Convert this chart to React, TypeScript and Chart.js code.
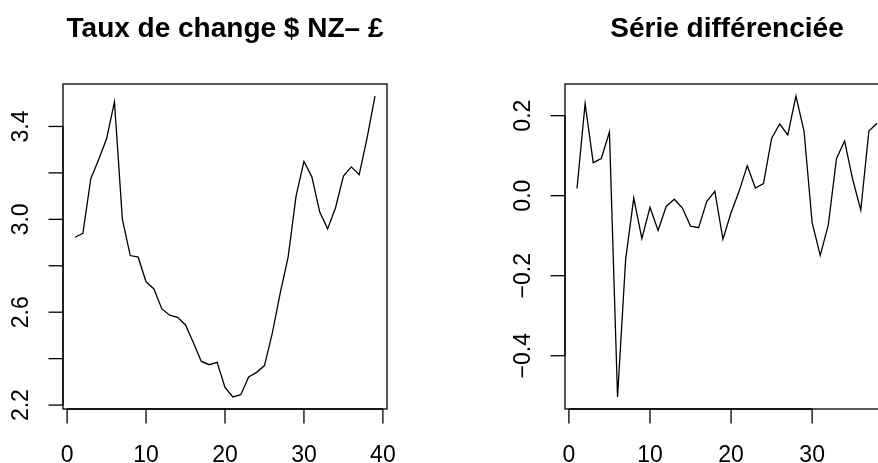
import React, { useEffect, useRef } from "react";
import { Chart, registerables } from "chart.js";

Chart.register(...registerables);

// Data
const tauxValues = [
  2.923, 2.94, 3.175, 3.258, 3.347, 3.506, 3.0, 2.844, 2.837, 2.731, 2.70, 2.614, 2.587,
  2.578, 2.545, 2.468, 2.388, 2.374, 2.384, 2.276, 2.235, 2.245, 2.321, 2.341, 2.370, 2.511,
  2.683, 2.838, 3.1, 3.25, 3.183, 3.031, 2.959, 3.05, 3.186, 3.226, 3.192, 3.351, 3.531,
];
const diffValues = [
  0.018, 0.23, 0.0825, 0.093, 0.159, -0.503, -0.159, -0.006, -0.1075, -0.029, -0.087, -0.027,
  -0.009, -0.031, -0.076, -0.08, -0.015, 0.011, -0.109, -0.0425, 0.0115, 0.075, 0.019, 0.03,
  0.143, 0.179, 0.152, 0.249, 0.1615, -0.0675, -0.149, -0.0725, 0.0925, 0.1365, 0.041, -0.036,
  0.1615, 0.181,
];

const leftTitle = "Taux de change $ NZ\u2013 \u00a3";
const rightTitle = "S\u00e9rie diff\u00e9renci\u00e9e";

const leftXTicks = [0, 10, 20, 30, 40];
const leftYTicks = [2.2, 2.4, 2.6, 2.8, 3.0, 3.2, 3.4];
const leftYLabels = ["2.2", "", "2.6", "", "3.0", "", "3.4"];

const rightXTicks = [0, 10, 20, 30, 40];
const rightYTicks = [-0.4, -0.2, 0.0, 0.2];
const rightYLabels = ["\u22120.4", "\u22120.2", "0.0", "0.2"];

const FONT = "'Liberation Sans', Arial, Helvetica, sans-serif";

function rAxisPlugin(title: string, xTicks: number[], yTicks: number[], yLabels: string[]) {
  return {
    id: "rAxes",
    afterDraw(chart: any) {
      const ctx = chart.ctx;
      const a = chart.chartArea;
      const xs = chart.scales.x;
      const ys = chart.scales.y;
      const tick = 14.5;
      ctx.save();
      ctx.strokeStyle = "#000";
      ctx.fillStyle = "#000";
      ctx.lineWidth = 1.3;
      // box
      ctx.strokeRect(a.left, a.top, a.right - a.left, a.bottom - a.top);
      // x ticks
      ctx.font = `23px ${FONT}`;
      ctx.textAlign = "center";
      ctx.textBaseline = "alphabetic";
      const visX = xTicks.filter((v) => v >= xs.min && v <= xs.max);
      if (visX.length) {
        ctx.beginPath();
        ctx.moveTo(xs.getPixelForValue(visX[0]), a.bottom);
        ctx.lineTo(xs.getPixelForValue(visX[visX.length - 1]), a.bottom);
        ctx.stroke();
      }
      visX.forEach((v) => {
        const px = xs.getPixelForValue(v);
        ctx.beginPath();
        ctx.moveTo(px, a.bottom);
        ctx.lineTo(px, a.bottom + tick);
        ctx.stroke();
        ctx.fillText(String(v), px, a.bottom + 53);
      });
      // y ticks
      ctx.beginPath();
      ctx.moveTo(a.left, ys.getPixelForValue(yTicks[0]));
      ctx.lineTo(a.left, ys.getPixelForValue(yTicks[yTicks.length - 1]));
      ctx.stroke();
      yTicks.forEach((v, i) => {
        const py = ys.getPixelForValue(v);
        ctx.beginPath();
        ctx.moveTo(a.left, py);
        ctx.lineTo(a.left - tick, py);
        ctx.stroke();
        const lab = yLabels[i];
        if (lab) {
          ctx.save();
          ctx.translate(a.left - 35, py);
          ctx.rotate(-Math.PI / 2);
          ctx.textAlign = "center";
          ctx.textBaseline = "alphabetic";
          ctx.fillText(lab, 0, 0);
          ctx.restore();
        }
      });
      // title
      ctx.font = `bold 28px ${FONT}`;
      ctx.textAlign = "center";
      ctx.textBaseline = "alphabetic";
      ctx.fillText(title, (a.left + a.right) / 2, 36.5);
      ctx.restore();
    },
  };
}

function RPanel(props: {
  values: number[];
  title: string;
  xTicks: number[];
  yTicks: number[];
  yLabels: string[];
  left: number;
}) {
  const ref = useRef<HTMLCanvasElement>(null);
  useEffect(() => {
    const { values } = props;
    const n = values.length;
    const xmin = 1 - 0.04 * (n - 1);
    const xmax = n + 0.04 * (n - 1);
    const lo = Math.min(...values);
    const hi = Math.max(...values);
    const r = hi - lo;
    const chart = new Chart(ref.current as HTMLCanvasElement, {
      type: "line",
      data: {
        datasets: [
          {
            data: values.map((v, i) => ({ x: i + 1, y: v })),
            borderColor: "#000",
            borderWidth: 1.3,
            pointRadius: 0,
            tension: 0,
            fill: false,
          },
        ],
      },
      options: {
        animation: false,
        responsive: false,
        events: [],
        layout: { padding: { left: 63, right: 115, top: 84, bottom: 54 } },
        plugins: { legend: { display: false }, tooltip: { enabled: false }, title: { display: false } },
        scales: {
          x: { type: "linear", min: xmin, max: xmax, display: false },
          y: { type: "linear", min: lo - 0.04 * r, max: hi + 0.04 * r, display: false },
        },
      },
      plugins: [rAxisPlugin(props.title, props.xTicks, props.yTicks, props.yLabels)],
    } as any);
    return () => chart.destroy();
  }, []);
  return (
    <canvas
      ref={ref}
      width={502}
      height={463}
      style={{ position: "absolute", left: props.left, top: 0, width: 502, height: 463 }}
    />
  );
}

export default function App() {
  return (
    <div
      style={{
        position: "absolute",
        left: 0,
        top: 0,
        width: 878,
        height: 463,
        overflow: "hidden",
        background: "#fff",
      }}
    >
      <RPanel values={tauxValues} title={leftTitle} xTicks={leftXTicks} yTicks={leftYTicks} yLabels={leftYLabels} left={0} />
      <RPanel values={diffValues} title={rightTitle} xTicks={rightXTicks} yTicks={rightYTicks} yLabels={rightYLabels} left={502} />
    </div>
  );
}
